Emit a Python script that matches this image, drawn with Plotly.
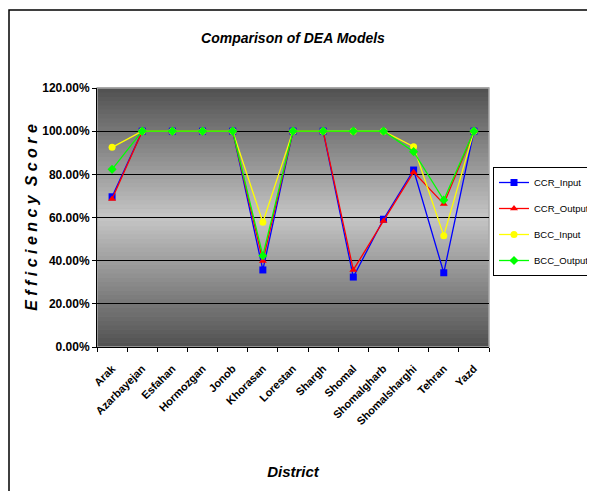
import plotly.graph_objects as go

districts = ["Arak", "Azarbayejan", "Esfahan", "Hormozgan", "Jonob", "Khorasan",
             "Lorestan", "Shargh", "Shomal", "Shomalgharb", "Shomalsharghi", "Tehran", "Yazd"]
ccr_input = [0.696, 1.0, 1.0, 1.0, 1.0, 0.357, 1.0, 1.0, 0.324, 0.592, 0.82, 0.344, 1.0]
ccr_output = [0.686, 1.0, 1.0, 1.0, 1.0, 0.398, 1.0, 1.0, 0.357, 0.584, 0.81, 0.663, 1.0]
bcc_input = [0.925, 1.0, 1.0, 1.0, 1.0, 0.578, 1.0, 1.0, 1.0, 1.0, 0.928, 0.516, 1.0]
bcc_output = [0.823, 1.0, 1.0, 1.0, 1.0, 0.423, 1.0, 1.0, 1.0, 1.0, 0.905, 0.681, 1.0]

series = [
    ("CCR_Input", ccr_input, "#0000ff", "square"),
    ("CCR_Output", ccr_output, "#ff0000", "triangle-up"),
    ("BCC_Input", bcc_input, "#ffff00", "circle"),
    ("BCC_Output", bcc_output, "#00ff00", "diamond"),
]

W, H = 587, 483
L, T, R, B = 89, 80, 106, 144
PW, PH = W - L - R, H - T - B

fig = go.Figure()
for name, vals, col, sym in series:
    fig.add_trace(go.Scatter(
        x=districts, y=vals, name=name, mode="lines+markers", legendgroup=name,
        line=dict(color=col, width=1.3),
        marker=dict(color=col, symbol=sym, size=7, line=dict(width=0)),
    ))

# gradient background bands
shapes = []
n = 60
dark, light = 80, 198
for i in range(n):
    y0 = i / n
    y1 = (i + 1) / n
    t = abs((y0 + y1) / 2 - 0.5) / 0.5
    g = int(round(light - (light - dark) * t))
    shapes.append(dict(type="rect", xref="x domain", yref="y domain",
                       x0=0, x1=1, y0=y0, y1=y1 + 0.002, layer="below",
                       line=dict(width=0), fillcolor=f"rgb({g},{g},{g})"))
# plot area light border
shapes.append(dict(type="rect", xref="x domain", yref="y domain", x0=0, x1=1, y0=0, y1=1,
                   line=dict(color="#a8a8a8", width=1.5), layer="below"))
# outer frame
shapes.append(dict(type="rect", xref="paper", yref="paper", x0=(1 - L) / PW,
                   x1=1 + (R + 20) / PW, y0=-(B + 10) / PH, y1=1 + (T - 2) / PH,
                   line=dict(color="black", width=1.5)))

fig.update_layout(
    width=W, height=H,
    margin=dict(l=L, r=R, t=T, b=B, autoexpand=False),
    paper_bgcolor="white", plot_bgcolor="#909090",
    shapes=shapes,
    font=dict(family="Liberation Sans, Arial, sans-serif", color="black"),
    title=dict(text="<b><i>Comparison of DEA Models</i></b>", x=0.5, xanchor="center",
               xref="paper", yref="container", y=1 - 30 / H, yanchor="middle",
               font=dict(size=14)),
    showlegend=True,
    legend=dict(xref="container", yref="container", x=485 / W, xanchor="left",
                y=1 - 159 / H, yanchor="top",
                bordercolor="black", borderwidth=1, bgcolor="white",
                font=dict(size=9.5, family="Liberation Sans, Arial"),
                tracegroupgap=7, itemwidth=30),
    xaxis=dict(
        type="category", tickson="boundaries", ticks="outside", ticklen=4,
        tickcolor="black", showline=True, linecolor="black", linewidth=1,
        showgrid=False, tickangle=-45, tickfont=dict(size=11), automargin=False,
        ticklabelstandoff=10,
        ticktext=[f"<b>{d}</b>" for d in districts], tickvals=districts,
        title=dict(text="<b><i>District</i></b>", font=dict(size=15), standoff=40),
        range=[-0.5, 12.5],
    ),
    yaxis=dict(
        range=[0, 1.2], dtick=0.2, tick0=0, tickformat=".2%",
        ticks="outside", ticklen=4, tickcolor="black", automargin=False,
        showline=True, linecolor="black", linewidth=1,
        showgrid=True, gridcolor="black", gridwidth=1,
        tickfont=dict(size=12, family="Liberation Sans, Arial"),
        title=dict(text="<b><i>E f f i c i e n c y  S c o r e</i></b>", font=dict(size=16), standoff=0),
        zeroline=False,
    ),
)
fig.update_yaxes(tickprefix="<b>", ticksuffix="</b>")

fig.write_html("out.html")
